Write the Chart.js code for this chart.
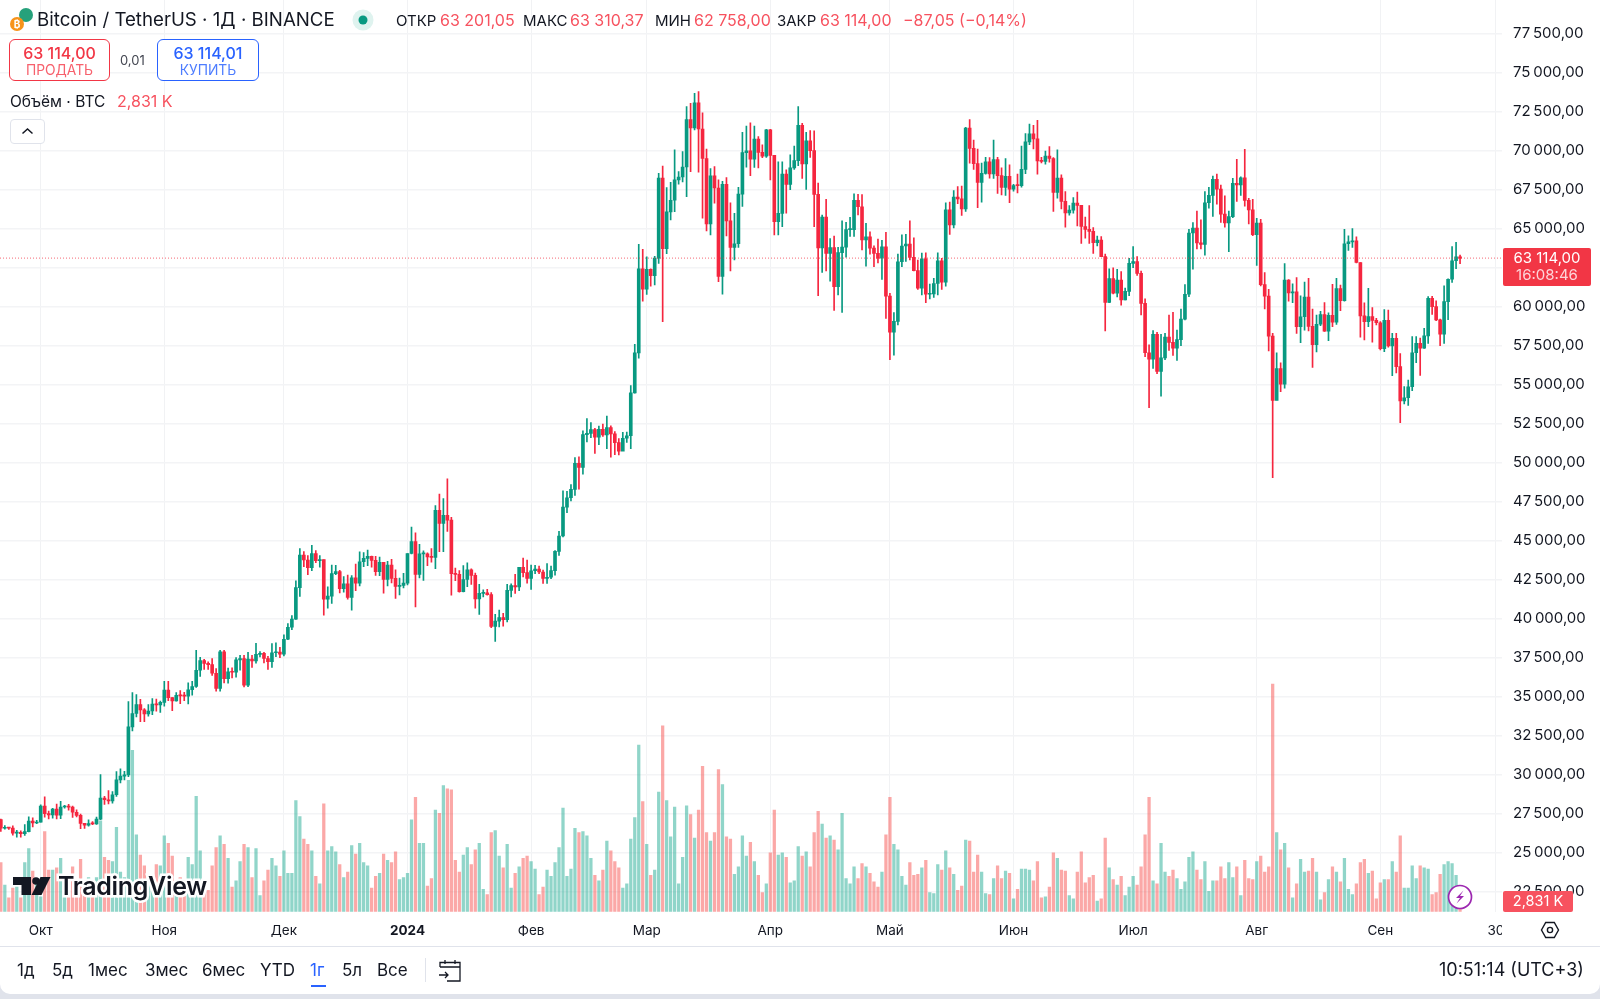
<!DOCTYPE html>
<html lang="ru">
<head>
<meta charset="utf-8">
<title>Bitcoin / TetherUS</title>
<script src="https://cdn.jsdelivr.net/npm/chart.js@4"></script>
<style>
  html, body { margin: 0; padding: 0; background: #e0e3eb; }
  body { width: 1600px; height: 999px; overflow: hidden; position: relative; font-family: Inter, "Noto Sans", sans-serif; color: #131722; }
  #panel { position: absolute; left: 0; top: 0; width: 1600px; height: 994px; background: #fff; border-radius: 0 0 10px 10px; }
  #chart { position: absolute; left: 0; top: 0; }
  .t { position: absolute; white-space: nowrap; line-height: 1; }
  .box { position: absolute; box-sizing: border-box; background: #fff; }
  .tag { position: absolute; color: #fff; text-align: center; }
  #sep { position: absolute; left: 0; top: 946px; width: 1600px; height: 1px; background: #e0e3eb; }
  svg { position: absolute; overflow: visible; }
  .logo { font-weight: 600; font-size: 25px; letter-spacing: -0.3px; paint-order: stroke; -webkit-text-stroke: 5px #fff; }
  .hd { top: 13px; font-size: 15px; }
  .hv { top: 12px; font-size: 16px; color: #f7525f; }
  .tb { top: 962px; font-size: 17px; }
</style>
</head>
<body>
<div id="panel"></div>
<canvas id="chart" width="1600" height="999"></canvas>

<!-- header -->
<svg style="left:8px;top:6px" width="30" height="28">
  <circle cx="18" cy="9" r="7" fill="#26a17b"/>
  <circle cx="9" cy="18" r="7" fill="#f7931a"/>
  <text x="9" y="22" font-size="10" font-weight="700" fill="#fff" text-anchor="middle" font-family="Inter">₿</text>
</svg>
<div class="t" style="left:37px;top:11px;font-size:18.7px">Bitcoin / TetherUS · 1Д · BINANCE</div>
<svg style="left:352px;top:9px" width="22" height="22">
  <circle cx="11" cy="11" r="10.5" fill="#dff3ef"/>
  <circle cx="11" cy="11" r="4.5" fill="#089981"/>
</svg>
<div class="t hd" style="left:396px">ОТКР</div>
<div class="t hv" style="left:440px">63 201,05</div>
<div class="t hd" style="left:523px">МАКС</div>
<div class="t hv" style="left:570px">63 310,37</div>
<div class="t hd" style="left:655px">МИН</div>
<div class="t hv" style="left:694px">62 758,00</div>
<div class="t hd" style="left:777px">ЗАКР</div>
<div class="t hv" style="left:820px">63 114,00</div>
<div class="t hv" style="left:903px">−87,05 (−0,14%)</div>

<div class="box" style="left:9px;top:39px;width:101px;height:42px;border:1px solid #f23645;border-radius:6px"></div>
<div class="t" style="left:9px;width:101px;text-align:center;top:45px;font-size:16px;font-weight:500;color:#f23645">63 114,00</div>
<div class="t" style="left:9px;width:101px;text-align:center;top:64px;font-size:13.8px;color:#f7616d">ПРОДАТЬ</div>
<div class="t" style="left:120px;top:54px;font-size:13px;color:#434651">0,01</div>
<div class="box" style="left:157px;top:39px;width:102px;height:42px;border:1px solid #2962ff;border-radius:6px"></div>
<div class="t" style="left:157px;width:102px;text-align:center;top:45px;font-size:16px;font-weight:500;color:#2962ff">63 114,01</div>
<div class="t" style="left:157px;width:102px;text-align:center;top:64px;font-size:13.8px;color:#4e7dff">КУПИТЬ</div>

<div class="t" style="left:10px;top:94px;font-size:15.5px">Объём · BTC</div>
<div class="t" style="left:117px;top:93px;font-size:16px;color:#f7525f">2,831 K</div>
<div class="box" style="left:10px;top:119px;width:35px;height:25px;border:1px solid #e0e3eb;border-radius:4px"></div>
<svg style="left:10px;top:119px" width="35" height="25"><path d="M12.5 14.5l5-4.5 5 4.5" fill="none" stroke="#131722" stroke-width="1.5"/></svg>

<!-- last price tags -->
<div class="tag" style="left:1503px;top:248px;width:88px;height:38px;background:#f23645;border-radius:2px"></div>
<div class="t" style="left:1503px;width:88px;text-align:center;top:250px;font-size:15px;color:#fff">63 114,00</div>
<div class="t" style="left:1503px;width:88px;text-align:center;top:267px;font-size:15px;color:#fdd5d9">16:08:46</div>
<div class="tag" style="left:1503px;top:891px;width:70px;height:21px;background:#f7525f;border-radius:2px"></div>
<div class="t" style="left:1503px;width:70px;text-align:center;top:894px;font-size:14.5px;color:#fff">2,831 K</div>

<!-- logo -->
<svg style="left:13px;top:876px" width="40" height="20">
  <path d="M0 1h18v18H8.5V9H0z" fill="#131722"/>
  <circle cx="23" cy="5" r="3.8" fill="#131722"/>
  <path d="M27.5 1H37.5L28.5 19H18.5z" fill="#131722"/>
</svg>
<div class="t logo" style="left:58px;top:874px">TradingView</div>

<!-- lightning badge -->
<svg style="left:1447px;top:884px" width="26" height="26">
  <circle cx="13" cy="13" r="11.5" fill="#fff" stroke="#9c27b0" stroke-width="1.7"/>
  <path d="M16.5 6.5L9 14h4l-3.5 5.5L17 12h-4z" fill="#9c27b0"/>
</svg>

<!-- cut the last time label at the price panel -->
<div class="box" style="left:1502px;top:915px;width:98px;height:30px"></div>
<svg style="left:1541px;top:921px" width="18" height="18">
  <path d="M4.7 1.5h8.6L17.5 9l-4.2 7.5H4.7L.5 9z" fill="none" stroke="#131722" stroke-width="1.4"/>
  <circle cx="9" cy="9" r="2.6" fill="none" stroke="#131722" stroke-width="1.4"/>
</svg>

<!-- bottom toolbar -->
<div id="sep"></div>
<div class="t tb" style="left:17px">1д</div>
<div class="t tb" style="left:52px">5д</div>
<div class="t tb" style="left:88px">1мес</div>
<div class="t tb" style="left:145px">3мес</div>
<div class="t tb" style="left:202px">6мес</div>
<div class="t tb" style="left:260px">YTD</div>
<div class="t tb" style="left:310px;color:#2962ff">1г</div>
<div class="box" style="left:311px;top:985px;width:15px;height:2px;background:#2962ff"></div>
<div class="t tb" style="left:342px">5л</div>
<div class="t tb" style="left:377px">Все</div>
<div class="box" style="left:425px;top:958px;width:1px;height:24px;background:#e0e3eb"></div>
<svg style="left:438px;top:959px" width="24" height="24">
  <path d="M2 8V3.5h20V22H9M2 8h20M7 1v4M17 1v4M1 16h9M7 13l3 3-3 3" fill="none" stroke="#131722" stroke-width="1.3"/>
</svg>
<div class="t" style="left:1439px;top:961px;font-size:18px">10:51:14 (UTC+3)</div>

<script>
'use strict';

// 21 sep 2023 - 21 sep 2024, one entry per day
const opens = [
    27129, 26567, 26580, 26579, 26256, 26298, 26212, 26352, 27021, 26906,
    26962, 27983, 27503, 27429, 27791, 27411, 27931, 27956, 27917, 27590, 27391, 26875, 26759, 26862, 26852, 27154, 28500, 28395, 28320, 28713, 29669, 29909, 29992, 33069, 33922, 34496, 34151, 33892, 34081, 34525, 34474,
    34639, 35421, 34938, 34732, 35082, 35049, 35037, 35443, 35655, 36693, 37313, 37138, 37054, 36502, 35537, 37880, 36154, 36596, 36568, 37359, 37449, 35741, 37408, 37294, 37713, 37780, 37447, 37242, 37818, 37854,
    37723, 38682, 39450, 39972, 41991, 44073, 43762, 43273, 44170, 43713, 43789, 41244, 41450, 42890, 43023, 41929, 42240, 41364, 42623, 42270, 43652, 43869, 43997, 43739, 43016, 43613, 42520, 43442, 42581, 42066, 42140,
    42283, 44179, 44946, 42845, 44151, 44162, 43958, 43929, 46951, 46110, 46632, 46314, 42893, 42842, 41732, 42511, 43137, 42776, 41262, 41618, 41665, 41545, 39507, 39845, 40077, 39933, 41816, 42120, 42035, 43288, 42952,
    42582, 43075, 43185, 42992, 42583, 42658, 43084, 44318, 45301, 47147, 47751, 48293, 49958, 49699, 51795, 51880, 52124, 51642, 52137, 51774, 52258, 51849, 51288, 50744, 51568, 51728, 54476, 57037, 62432,
    61130, 62387, 61987, 63113, 68245, 63724, 66074, 66823, 68124, 68313, 68955, 72000, 71452, 73072, 71388, 69499, 65300, 68393, 67609, 61937, 67840, 65501, 63796, 64037, 67211, 69880, 69988, 69455, 70744, 69892, 69645,
    71333, 69702, 65446, 65980, 68508, 67837, 68896, 69360, 71620, 69146, 70631, 70006, 67195, 63762, 65739, 63419, 63793, 61277, 63470, 63818, 64940, 64941, 66819, 66407, 64276, 64481, 63755, 63419, 63113, 63841,
    60672, 58364, 59060, 62882, 63892, 64012, 63165, 62312, 61193, 63074, 60799, 60825, 61484, 62940, 61577, 66206, 65235, 67024, 66915, 66274, 71446, 70148, 69166, 67969, 68549, 69290, 68507, 69436, 68398, 67652, 68352,
    67540, 67766, 67765, 68804, 70567, 71082, 70757, 69342, 69310, 69648, 69500, 67321, 68243, 66747, 66006, 66191, 66639, 66490, 65140, 64960, 64828, 64096, 64262, 63210, 60277, 61806, 60864, 61706, 60427, 60986,
    62772, 62899, 62135, 60208, 57050, 56628, 58230, 55857, 56714, 58050, 57717, 57338, 57889, 59204, 60797, 64724, 65043, 64087, 63987, 66660, 67139, 68165, 67532, 65936, 65372, 65777, 67912, 67813, 68255, 66819, 66201,
    64619, 65357, 61415, 60680, 58116, 53991, 56034, 55027, 61710, 60880, 60945, 58719, 59354, 60609, 58739, 57560, 58874, 59491, 58427, 59438, 59013, 61156, 60381, 64037, 64157, 64220, 62834, 59415, 59034, 59359, 59123,
    58973, 57301, 59132, 57487, 57970, 56160, 53962, 54160, 54869, 57050, 57648, 57343, 58127, 60540, 60000, 59150, 58240, 60320, 61760, 62947, 63201.05
];

const highs = [
    27155, 26743, 26634, 26720, 26430, 26400, 26800, 27300, 27230, 27080,
    28065, 28580, 27670, 27840, 28120, 28290, 28030, 28100, 27990, 27740, 27480, 26840, 27100, 26990, 27290, 30000, 28610, 28980, 28920, 30200, 30380, 30210, 34680, 35260, 35130, 34830, 34240, 34490, 34880, 34850, 34720,
    35980, 35980, 34950, 35260, 35400, 35280, 35890, 35990, 37970, 37530, 37400, 37230, 37450, 36800, 37980, 37970, 36830, 36850, 37500, 37650, 37650, 37850, 37650, 38420, 37890, 37840, 37590, 38400, 38450, 38170,
    38970, 39690, 40200, 42420, 44490, 44300, 44050, 44700, 44370, 44050, 43770, 42050, 43430, 43420, 43100, 42700, 42800, 42760, 43500, 44290, 44230, 44400, 44020, 44000, 43950, 43620, 43680, 43800, 43130, 42610, 42900,
    44180, 45880, 45500, 44770, 44350, 44220, 44490, 47250, 47990, 47700, 48970, 46500, 43250, 43080, 43400, 43580, 43200, 42930, 42200, 41850, 41880, 41680, 40280, 40550, 40350, 42200, 42240, 42840, 43300, 43880, 43750,
    43430, 43420, 43380, 43120, 43530, 43370, 44370, 45600, 48190, 48160, 48590, 50330, 50370, 52040, 52820, 52570, 52200, 52350, 52480, 52980, 52370, 52000, 51550, 51950, 51970, 54950, 57580, 64000, 63680,
    63200, 62430, 63230, 68550, 69020, 67640, 67970, 70050, 68660, 69940, 72830, 73040, 73680, 73790, 72430, 70100, 68860, 68980, 68130, 68030, 68270, 66650, 65980, 67650, 71180, 71580, 71790, 71570, 70900, 70370, 71370,
    71370, 69700, 69290, 69290, 68770, 69730, 70300, 72830, 71750, 71170, 71290, 71270, 67930, 65880, 66880, 64370, 64530, 63800, 65500, 65400, 65730, 67230, 67210, 67190, 65350, 64800, 63900, 64340, 64250, 64770,
    60850, 59620, 63370, 64600, 64640, 65500, 64420, 62990, 63440, 63460, 61450, 61820, 63450, 63100, 66650, 66700, 67450, 67700, 67730, 71500, 72000, 70680, 70100, 69200, 69570, 69560, 70680, 69580, 68900, 69500, 69090,
    67840, 68500, 70300, 71090, 71700, 71620, 71950, 69570, 69970, 70260, 69550, 70050, 68450, 67380, 66480, 66990, 67340, 66500, 65740, 66480, 65070, 64520, 64490, 63370, 62420, 62490, 62400, 62250, 61200, 63100,
    63860, 63210, 62280, 60500, 57550, 58470, 58350, 58230, 58300, 59460, 59640, 58500, 59850, 61420, 64960, 65390, 66130, 65560, 67380, 67650, 68380, 68500, 67800, 67100, 66130, 68230, 69450, 68320, 70090, 66950, 66880,
    65670, 65600, 62190, 61110, 58290, 57050, 56400, 62770, 61740, 61460, 61860, 60700, 61570, 61820, 59850, 59470, 59700, 60270, 59610, 61440, 61820, 61390, 64960, 64540, 65000, 64480, 62830, 60240, 61180, 59950, 59260,
    59050, 59810, 59790, 58300, 58300, 57000, 54880, 55300, 58080, 58080, 57990, 58620, 60650, 60660, 60380, 59210, 61330, 61780, 63850, 64130, 63310.37
];

const lows = [
    26360, 26512, 26500, 26130, 26000, 26000, 26115, 26330, 26660, 26860,
    26950, 27280, 27160, 27220, 27160, 27180, 27860, 27730, 27260, 27300, 26540, 26560, 26700, 26800, 26810, 27110, 28100, 28130, 28180, 28600, 29480, 29660, 29880, 32800, 33700, 33400, 33400, 33750, 33850, 34070, 34000,
    34400, 34750, 34100, 34710, 34550, 34740, 34530, 35100, 35600, 36300, 36750, 36750, 36360, 35350, 35360, 35880, 35860, 36200, 36250, 36700, 35630, 35650, 36870, 37150, 37550, 37160, 36750, 36870, 37570, 37500,
    37620, 38650, 39300, 39960, 41420, 43330, 42820, 43080, 43590, 43300, 40220, 40680, 40980, 42820, 41650, 41700, 41250, 40550, 41800, 42100, 43330, 43400, 43300, 42770, 42760, 41640, 42100, 42300, 41300, 41520, 41980,
    42170, 44150, 40750, 42620, 42450, 43400, 43620, 43200, 44300, 44300, 45600, 41500, 42440, 41700, 41710, 42050, 42190, 40680, 40280, 41400, 41500, 39430, 38550, 39480, 39520, 39800, 41390, 41620, 41800, 42680, 42280,
    41880, 42880, 42880, 42260, 42260, 42560, 42790, 44060, 45240, 46800, 47550, 47900, 48300, 49270, 51330, 51600, 50600, 51150, 51680, 50900, 50350, 50520, 50500, 50930, 51300, 50900, 54450, 56700, 60360,
    60780, 61320, 61400, 62770, 59040, 63400, 65560, 66090, 67850, 68000, 67050, 68660, 71330, 68620, 65670, 64850, 64600, 66630, 61600, 60800, 64540, 62300, 63000, 63800, 66420, 68950, 68400, 68930, 68900, 69550, 69570,
    68120, 64600, 64600, 65130, 65990, 67500, 68800, 69040, 68230, 67520, 69570, 65130, 60700, 62200, 62300, 61640, 59760, 60760, 59640, 63170, 64500, 64500, 65880, 63640, 62600, 63360, 62560, 62800, 61750, 59250,
    56600, 56900, 58830, 62570, 62900, 63000, 62300, 61100, 60750, 60260, 60500, 60600, 60760, 61100, 61320, 64640, 65050, 66600, 65850, 66100, 69200, 68800, 66350, 66700, 68500, 68240, 68230, 67260, 67160, 67130, 66660,
    67400, 67290, 67660, 68530, 70380, 70120, 68500, 69210, 69130, 69260, 66100, 66950, 66270, 65090, 65870, 66000, 65170, 64060, 64400, 64060, 63420, 63900, 63210, 58440, 60260, 60820, 60630, 60100, 60430, 60700,
    62500, 62000, 59480, 56800, 53530, 56050, 55700, 54270, 56600, 57200, 56880, 56550, 57500, 59150, 60650, 62400, 63700, 63700, 63300, 66310, 65790, 66570, 65400, 65100, 63520, 65700, 66740, 67130, 66450, 65300, 64560,
    62640, 61330, 59860, 57160, 49040, 54020, 54550, 54770, 60350, 60260, 58290, 57690, 58500, 58450, 56100, 57100, 58780, 58410, 57820, 58720, 58860, 59750, 60350, 63610, 63800, 62800, 58040, 57870, 58720, 57720, 58830,
    57230, 57120, 57400, 55580, 55750, 52560, 53760, 53670, 54620, 56410, 55590, 57330, 57650, 59510, 59100, 57500, 57650, 59170, 61560, 62430, 62758
];

const closes = [
    26567, 26580, 26579, 26256, 26298, 26212, 26352, 27021, 26906, 26962,
    27983, 27503, 27429, 27791, 27411, 27931, 27956, 27917, 27590, 27391, 26875, 26759, 26862, 26852, 27154, 28500, 28395, 28320, 28713, 29669, 29909, 29992, 33069, 33922, 34496, 34151, 33892, 34081, 34525, 34474, 34639,
    35421, 34938, 34732, 35082, 35049, 35037, 35443, 35655, 36693, 37313, 37138, 37054, 36502, 35537, 37880, 36154, 36596, 36568, 37359, 37449, 35741, 37408, 37294, 37713, 37780, 37447, 37242, 37818, 37854, 37723,
    38682, 39450, 39972, 41991, 44073, 43762, 43273, 44170, 43713, 43789, 41244, 41450, 42890, 43023, 41929, 42240, 41364, 42623, 42270, 43652, 43869, 43997, 43739, 43016, 43613, 42520, 43442, 42581, 42066, 42140, 42283,
    44179, 44946, 42845, 44151, 44162, 43958, 43929, 46951, 46110, 46632, 46314, 42893, 42842, 41732, 42511, 43137, 42776, 41262, 41618, 41665, 41545, 39507, 39845, 40077, 39933, 41816, 42120, 42035, 43288, 42952, 42582,
    43075, 43185, 42992, 42583, 42658, 43084, 44318, 45301, 47147, 47751, 48293, 49958, 49699, 51795, 51880, 52124, 51642, 52137, 51774, 52258, 51849, 51288, 50744, 51568, 51728, 54476, 57037, 62432, 61130,
    62387, 61987, 63113, 68245, 63724, 66074, 66823, 68124, 68313, 68955, 72000, 71452, 73072, 71388, 69499, 65300, 68393, 67609, 61937, 67840, 65501, 63796, 64037, 67211, 69880, 69988, 69455, 70744, 69892, 69645, 71333,
    69702, 65446, 65980, 68508, 67837, 68896, 69360, 71620, 69146, 70631, 70006, 67195, 63762, 65739, 63419, 63793, 61277, 63470, 63818, 64940, 64941, 66819, 66407, 64276, 64481, 63755, 63419, 63113, 63841, 60672,
    58364, 59060, 62882, 63892, 64012, 63165, 62312, 61193, 63074, 60799, 60825, 61484, 62940, 61577, 66206, 65235, 67024, 66915, 66274, 71446, 70148, 69166, 67969, 68549, 69290, 68507, 69436, 68398, 67652, 68352, 67540,
    67766, 67765, 68804, 70567, 71082, 70757, 69342, 69310, 69648, 69500, 67321, 68243, 66747, 66006, 66191, 66639, 66490, 65140, 64960, 64828, 64096, 64262, 63210, 60277, 61806, 60864, 61706, 60427, 60986, 62772,
    62899, 62135, 60208, 57050, 56628, 58230, 55857, 56714, 58050, 57717, 57338, 57889, 59204, 60797, 64724, 65043, 64087, 63987, 66660, 67139, 68165, 67532, 65936, 65372, 65777, 67912, 67813, 68255, 66819, 66201, 64619,
    65357, 61415, 60680, 58116, 53991, 56034, 55027, 61710, 60880, 60945, 58719, 59354, 60609, 58739, 57560, 58874, 59491, 58427, 59438, 59013, 61156, 60381, 64037, 64157, 64220, 62834, 59415, 59034, 59359, 59123, 58973,
    57301, 59132, 57487, 57970, 56160, 53962, 54160, 54869, 57050, 57648, 57343, 58127, 60540, 60000, 59150, 58240, 60320, 61760, 62947, 63201.05, 63114
];

// thousands of BTC
const volumes = [
    46, 25, 13, 22, 23, 13, 46, 59, 38, 29,
    14, 75, 39, 39, 41, 50, 14, 20, 42, 14,
    49, 23, 32, 23, 32, 85, 51, 48, 47, 79,
    37, 32, 123, 151, 72, 53, 43, 32, 23, 44,
    43, 71, 64, 52, 20, 32, 20, 51, 44, 108,
    57, 20, 20, 43, 60, 71, 63, 50, 23, 29,
    47, 63, 60, 32, 59, 15, 29, 39, 50, 43,
    33, 57, 36, 36, 104, 89, 68, 63, 57, 33,
    26, 101, 57, 61, 56, 44, 32, 37, 62, 54,
    64, 46, 43, 22, 33, 36, 54, 48, 46, 56,
    30, 32, 36, 86, 107, 64, 64, 24, 31, 95,
    92, 118, 115, 114, 48, 37, 53, 60, 44, 58,
    64, 21, 16, 74, 76, 52, 41, 63, 22, 36,
    42, 50, 52, 47, 40, 16, 23, 39, 33, 46,
    60, 97, 33, 40, 78, 74, 75, 71, 50, 34,
    29, 39, 66, 57, 47, 41, 22, 26, 68, 88,
    156, 103, 63, 34, 39, 112, 174, 104, 70, 98,
    26, 51, 99, 91, 69, 95, 136, 74, 66, 74,
    133, 119, 70, 68, 35, 42, 71, 52, 65, 47,
    34, 18, 26, 55, 95, 53, 55, 51, 27, 29,
    61, 52, 56, 42, 74, 94, 82, 69, 71, 67,
    58, 92, 31, 26, 42, 31, 45, 42, 36, 28,
    23, 37, 72, 107, 63, 58, 33, 25, 46, 34,
    35, 41, 48, 18, 17, 44, 39, 57, 41, 35,
    20, 24, 67, 66, 37, 53, 37, 17, 16, 31,
    43, 31, 38, 36, 12, 21, 40, 40, 39, 29,
    47, 13, 14, 23, 55, 50, 39, 38, 15, 12,
    37, 56, 27, 32, 34, 10, 12, 69, 41, 30,
    25, 33, 15, 23, 33, 25, 42, 72, 107, 29,
    26, 64, 37, 33, 39, 31, 21, 28, 51, 56,
    39, 30, 47, 19, 29, 29, 42, 31, 46, 32,
    42, 15, 48, 31, 30, 47, 52, 37, 42, 213,
    74, 58, 64, 41, 13, 26, 49, 37, 38, 50,
    37, 11, 18, 30, 42, 37, 28, 50, 21, 16,
    26, 46, 49, 36, 38, 12, 27, 30, 30, 47,
    37, 71, 22, 22, 43, 31, 43, 41, 40, 16,
    18, 35, 44, 47, 45, 34, 2.831
];

const priceTicks = [
    22500, 25000, 27500, 30000, 32500, 35000, 37500, 40000, 42500, 45000, 47500, 50000,
    52500, 55000, 57500, 60000, 62500, 65000, 67500, 70000, 72500, 75000, 77500
];
const lastPrice = 63114;

// day index of each time axis label
const timeTicks = [10, 41, 71, 102, 133, 162, 193, 223, 254, 284, 315, 346, 375];
const timeLabels = ['Окт', 'Ноя', 'Дек', '2024', 'Фев', 'Мар', 'Апр', 'Май', 'Июн', 'Июл', 'Авг', 'Сен', '30'];

const UP = '#089981';
const DOWN = '#f5263f';
const days = closes.map((c, i) => i);

function isUp(i) {
    return closes[i] >= opens[i];
}

// 77500 -> "77 500,00" with a thin space
function priceLabel(v) {
    const s = String(v);
    return s.slice(0, -3) + '\u2009' + s.slice(-3) + ',00';
}

const xMin = -0.21;
const xMax = 376.52;

new Chart(document.getElementById('chart').getContext('2d'), {
    data: {
        datasets: [
            {
                type: 'line',
                yAxisID: 'y',
                order: 0,
                data: [{ x: xMin, y: lastPrice }, { x: xMax, y: lastPrice }],
                borderColor: 'rgba(242, 54, 69, 0.75)',
                borderWidth: 1,
                borderDash: [1, 2],
                pointRadius: 0
            },
            {
                type: 'bar',
                yAxisID: 'y',
                order: 1,
                data: days.map(i => ({ x: i, y: [Math.min(opens[i], closes[i]), Math.max(opens[i], closes[i])] })),
                backgroundColor: days.map(i => (isUp(i) ? UP : DOWN)),
                barThickness: 3,
                minBarLength: 1,
                grouped: false,
                borderWidth: 0
            },
            {
                type: 'bar',
                yAxisID: 'y',
                order: 2,
                data: days.map(i => ({ x: i, y: [lows[i], highs[i]] })),
                backgroundColor: days.map(i => (isUp(i) ? UP : DOWN)),
                barThickness: 1,
                grouped: false,
                borderWidth: 0
            },
            {
                type: 'bar',
                yAxisID: 'yVol',
                order: 3,
                data: days.map(i => ({ x: i, y: volumes[i] })),
                backgroundColor: days.map(i => (isUp(i) ? 'rgba(34, 171, 148, 0.5)' : 'rgba(247, 82, 80, 0.5)')),
                barThickness: 2.6,
                grouped: false,
                borderWidth: 0
            }
        ]
    },
    options: {
        responsive: false,
        animation: false,
        events: [],
        layout: { padding: 0 },
        plugins: { legend: { display: false }, tooltip: { enabled: false } },
        scales: {
            x: {
                type: 'linear',
                offset: false,
                min: xMin,
                max: xMax,
                afterBuildTicks: axis => { axis.ticks = timeTicks.map(value => ({ value })); },
                afterFit: axis => { axis.height = 87.3; axis.paddingLeft = 0; axis.paddingRight = 0; },
                grid: { color: '#f1f2f4', lineWidth: 1, drawTicks: false, offset: false },
                border: { display: false },
                ticks: {
                    autoSkip: false,
                    maxRotation: 0,
                    padding: 11,
                    color: '#131722',
                    font: ctx => ({ family: 'Inter', size: 13.5, weight: timeLabels[ctx.index] === '2024' ? '700' : '400' }),
                    callback: (value, i) => timeLabels[i]
                }
            },
            y: {
                position: 'right',
                min: 21218,
                max: 79659,
                afterBuildTicks: axis => { axis.ticks = priceTicks.map(value => ({ value })); },
                afterFit: axis => { axis.width = 98; axis.paddingTop = 0; axis.paddingBottom = 0; },
                grid: { color: '#f3f4f6', lineWidth: 1.5, drawTicks: false },
                border: { display: false },
                ticks: {
                    padding: 11,
                    autoSkip: false,
                    color: '#131722',
                    font: { family: 'Inter', size: 15 },
                    callback: value => priceLabel(value)
                }
            },
            yVol: {
                display: false,
                min: 0,
                max: 853.3
            }
        }
    }
});
</script>
</body>
</html>
